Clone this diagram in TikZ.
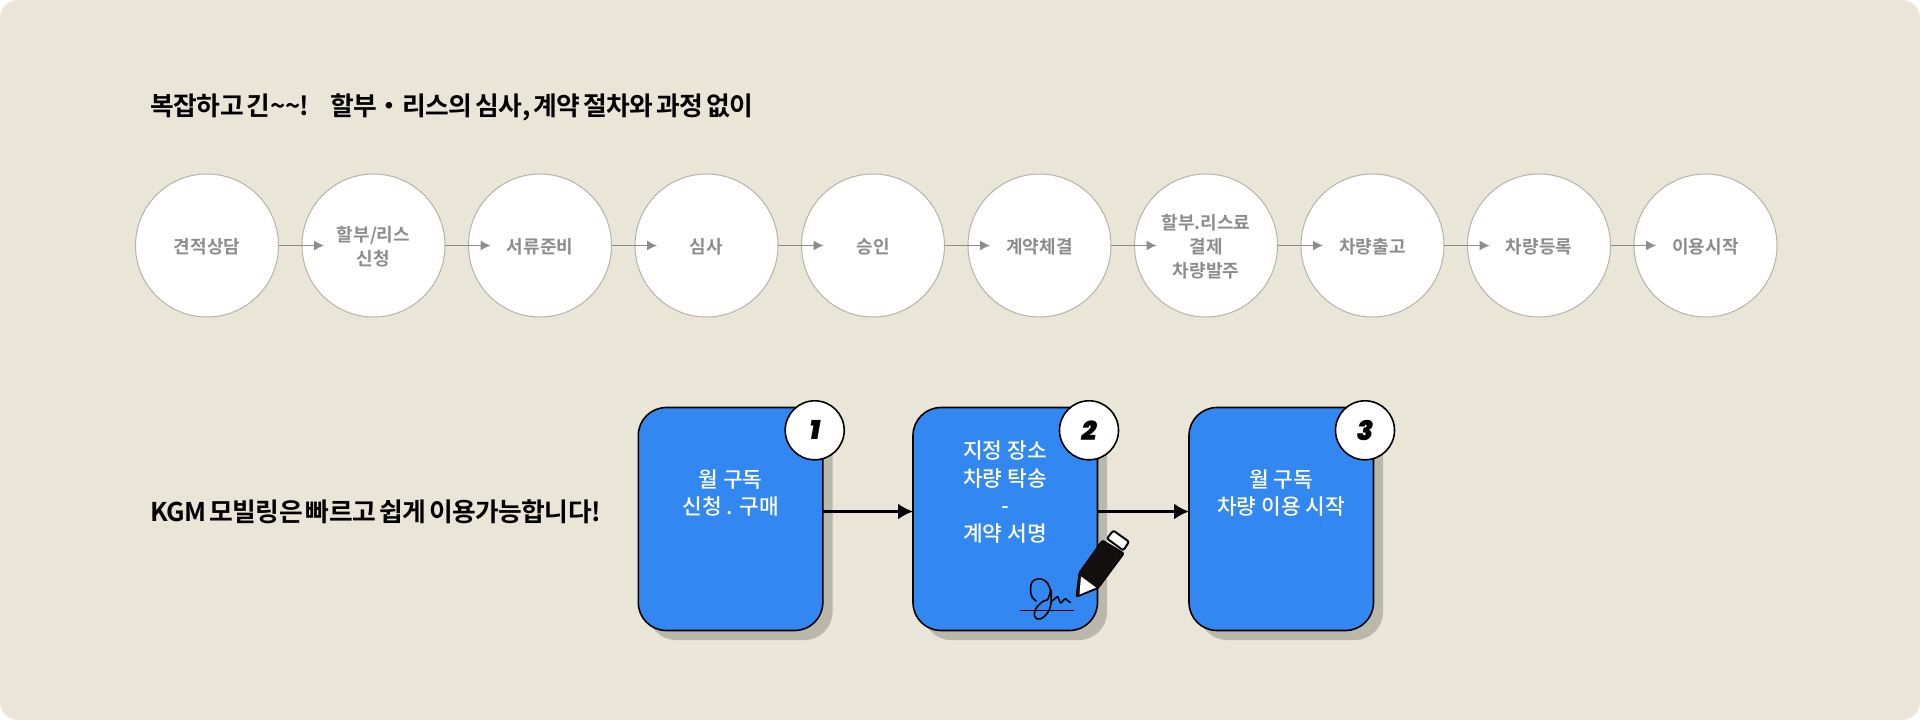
\documentclass[tikz,border=0pt]{standalone}
\usepackage{fontspec}
\setmainfont{Noto Sans CJK KR}
\newfontfamily\krm{Noto Sans CJK KR Medium}
\newfontfamily\krb{Noto Sans CJK KR Bold}
\newfontfamily\krtitle[LetterSpace=-1.4,WordSpace=0.5]{Noto Sans CJK KR Bold}
\newfontfamily\krsub[LetterSpace=-2.3,WordSpace=0.6]{Noto Sans CJK KR Bold}
\newfontfamily\numf{Poppins Black Italic}
\usetikzlibrary{arrows.meta}
\definecolor{bgc}{HTML}{E9E6D8}
\definecolor{shc}{HTML}{BAB7AB}
\definecolor{blu}{HTML}{3387F0}
\definecolor{gtx}{HTML}{8C8C8C}
\definecolor{cedge}{HTML}{B5B3AA}
\definecolor{penc}{HTML}{140F0F}
\tikzset{
 stepc/.style={circle,draw=cedge,line width=1pt,fill=white,minimum size=143pt,inner sep=0pt,outer sep=0pt},
 steptxt/.style={inner sep=0pt,align=center,text=gtx,font=\krb\fontsize{18}{24}\selectfont},
 card/.style={rounded corners=28pt,draw=black,line width=1.6pt,fill=blu,minimum width=184.5pt,minimum height=223pt,anchor=north west,inner sep=0pt,outer sep=0pt},
 cardshadow/.style={rounded corners=28pt,fill=shc},
 cardtext/.style={text=white,align=center,inner sep=0pt,font=\krm\fontsize{21.4}{27.5}\selectfont},
 badge/.style={circle,draw=black,line width=1.6pt,fill=white,minimum size=59pt,inner sep=0pt,outer sep=0pt,font=\numf\fontsize{27}{27}\selectfont},
 garrow/.style={draw=gtx,line width=1.2pt,-{Latex[length=10pt,width=10pt]}},
 barrow/.style={draw=black,line width=2.4pt,-{Latex[length=15pt,width=16pt]}},
 head/.style={anchor=west,text=black,inner sep=0pt}
}
\begin{document}
\begin{tikzpicture}[x=1pt,y=-1pt]
\useasboundingbox (0,0) rectangle (1920,720);
\fill[white] (0,0) rectangle (1920,720);
\fill[bgc,rounded corners=18pt] (0,0) rectangle (1920,720);
\node[head,font=\krtitle\fontsize{25.8}{30}\selectfont] (title) at (150,107) {복잡하고 긴\char"007E\char"007E!\hspace{16pt} 할부・리스의 심사, 계약 절차와 과정 없이};
\node[head,font=\krsub\fontsize{25.8}{30}\selectfont] (sub) at (150,512) {KGM 모빌링은 빠르고 쉽게 이용가능합니다!};
% circles
\foreach \n/\cx in {1/207,2/373.5,3/540,4/706.5,5/873,6/1039.5,7/1206,8/1372.5,9/1539,10/1705.5}{
 \node[stepc] (c\n) at (\cx,245.5) {};
}
\foreach \a/\b in {c1/c2,c2/c3,c3/c4,c4/c5,c5/c6,c6/c7,c7/c8,c8/c9,c9/c10}{
 \draw[garrow] (\a.east) -- ([xshift=22pt]\b.west);
}
\node[steptxt] (l1) at ([yshift=-1.5pt]c1) {견적상담};
\node[steptxt] (l2) at ([yshift=-1.5pt]c2) {할부/리스\\신청};
\node[steptxt] (l3) at ([yshift=-1.5pt]c3) {서류준비};
\node[steptxt] (l4) at ([yshift=-1.5pt]c4) {심사};
\node[steptxt] (l5) at ([yshift=-1.5pt]c5) {승인};
\node[steptxt] (l6) at ([yshift=-1.5pt]c6) {계약체결};
\node[steptxt] (l7) at ([yshift=-1.5pt]c7) {할부.리스료\\결제\\차량발주};
\node[steptxt] (l8) at ([yshift=-1.5pt]c8) {차량출고};
\node[steptxt] (l9) at ([yshift=-1.5pt]c9) {차량등록};
\node[steptxt] (l10) at ([yshift=-1.5pt]c10) {이용시작};
% cards
\fill[cardshadow] (648,417) rectangle (832.5,640);
\fill[cardshadow] (923,417) rectangle (1107,640);
\fill[cardshadow] (1199,417) rectangle (1383,640);
\node[card] (k1) at (638.3,407.5) {};
\node[card] (k2) at (913,407.5) {};
\node[card] (k3) at (1189,407.5) {};
\coordinate (m2) at (913,511.5);
\coordinate (m3) at (1189,511.5);
\draw[barrow] (k1.east |- m2) -- (m2);
\draw[barrow] (k2.east |- m3) -- (m3);
\node[cardtext] (x1) at (730.5,493) {월 구독\\신청 . 구매};
\node[cardtext] (x2) at (1005,492) {지정 장소\\차량 탁송\\-\\계약 서명};
\node[cardtext] (x3) at (1281,493) {월 구독\\차량 이용 시작};
\node[badge] (b1) at (814.7,430.3) {1};
\node[badge] (b2) at (1089,430.3) {2};
\node[badge] (b3) at (1365,430.3) {3};
% pen
\filldraw[fill=penc,draw=black,line width=1pt,line join=round,rounded corners=1.5pt] (1079,572.7) -- (1102.3,540) -- (1124.3,553.3) -- (1098.3,588.3) -- (1076,597.3) -- cycle;
\filldraw[fill=white,draw=black,line width=2pt,rounded corners=2pt] (1113.3,530.5) -- (1129,541.7) -- (1123.3,550.5) -- (1107,538.5) -- cycle;
\fill[white] (1081,576.5) -- (1096,587.5) -- (1079.5,594.5) -- cycle;
% signature
\draw[black,line width=1.6pt] (1020,610.3) -- (1074,610.3);
\draw[black,line width=1.6pt,line cap=round,line join=round] (1036,601) .. controls (1030,598) and (1030,590) .. (1031,585) .. controls (1032,578) and (1043,576) .. (1048,584) .. controls (1053,593) and (1052,606) .. (1048,612) .. controls (1044,619) and (1036,622) .. (1034.5,616) .. controls (1033,609) and (1041,601) .. (1047,600) .. controls (1049,600) and (1050,590) .. (1051,590) .. controls (1052,595) and (1050,601) .. (1052,601) .. controls (1055,600) and (1056,596) .. (1058,597) .. controls (1060,599) and (1059,603) .. (1061,603) .. controls (1063,602) and (1064,598) .. (1066,599) .. controls (1068,600) and (1068,602) .. (1070.5,602.5);
\end{tikzpicture}
\end{document}
